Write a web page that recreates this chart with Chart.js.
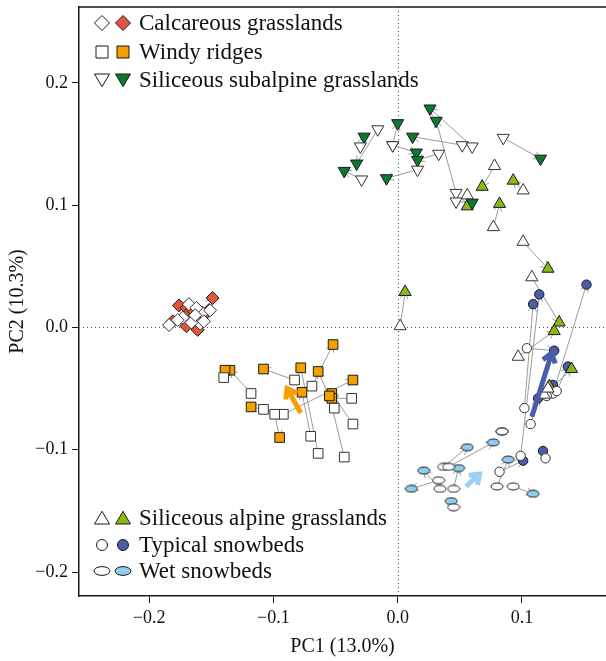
<!DOCTYPE html>
<html>
<head>
<meta charset="utf-8">
<script src="https://cdn.jsdelivr.net/npm/chart.js@4.4.0/dist/chart.umd.min.js"></script>
<style>
  html, body { margin: 0; padding: 0; background: #fff; overflow: hidden; }
  canvas { display: block; }
</style>
</head>
<body>
<canvas id="pca" width="606" height="661"></canvas>
<script>
// PCA scores, [PC1, PC2]; old (open) and new (filled) plots in the same order
const calcOld = [[-0.157,0.012],[-0.168,0.019],[-0.162,0.016],[-0.164,0.006],[-0.151,0.014],[-0.159,0.003],[-0.184,0.002],[-0.166,0.004],[-0.156,0.005],[-0.173,0.008],[-0.163,0.010],[-0.177,0.006]];
const calcNew = [[-0.149,0.024],[-0.176,0.018],[-0.170,0.016],[-0.169,0.011],[-0.152,0.014],[-0.155,0.011],[-0.181,0.005],[-0.170,0.001],[-0.161,-0.002],[-0.166,0.007],[-0.159,0.011],[-0.164,0.013]];

const windyOld = [[-0.069,-0.048],[-0.118,-0.054],[-0.140,-0.041],[-0.083,-0.043],[-0.064,-0.103],[-0.051,-0.066],[-0.092,-0.071],[-0.070,-0.089],[-0.036,-0.079],[-0.037,-0.058],[-0.108,-0.067],[-0.099,-0.071],[-0.043,-0.106]];
const windyNew = [[-0.052,-0.014],[-0.135,-0.035],[-0.139,-0.035],[-0.108,-0.034],[-0.078,-0.033],[-0.064,-0.036],[-0.036,-0.043],[-0.077,-0.053],[-0.053,-0.054],[-0.053,-0.058],[-0.118,-0.065],[-0.095,-0.090],[-0.055,-0.056]];

const subOld = [[-0.016,0.162],[-0.030,0.148],[-0.004,0.149],[0.016,0.129],[0.033,0.142],[0.052,0.149],[0.060,0.148],[0.085,0.155],[-0.029,0.121],[0.047,0.110],[0.047,0.103],[-0.004,0.149]];
const subNew = [[-0.033,0.134],[-0.027,0.156],[0.015,0.143],[-0.009,0.122],[0.016,0.137],[0.012,0.156],[0.026,0.179],[0.115,0.138],[-0.043,0.128],[0.031,0.169],[0.060,0.102],[0.000,0.167]];

const alpOld = [[0.002,0.001],[0.101,0.070],[0.108,0.041],[0.097,-0.024],[0.118,-0.055],[0.121,-0.050],[0.077,0.082],[0.078,0.132],[0.101,0.112],[0.056,0.108]];
const alpNew = [[0.006,0.029],[0.121,0.048],[0.130,0.004],[0.126,-0.003],[0.140,-0.034],[0.122,-0.048],[0.082,0.101],[0.068,0.115],[0.093,0.120],[0.056,0.099]];

const typOld = [[0.104,-0.017],[0.125,-0.054],[0.102,-0.066],[0.099,-0.105],[0.107,-0.079],[0.119,-0.107],[0.082,-0.118],[0.120,-0.056],[0.128,-0.052]];
const typNew = [[0.126,-0.019],[0.152,0.035],[0.109,0.019],[0.114,0.027],[0.113,-0.058],[0.117,-0.101],[0.101,-0.109],[0.125,-0.047],[0.137,-0.032]];

const wetOld = [[0.033,-0.125],[0.034,-0.132],[0.037,-0.114],[0.041,-0.114],[0.045,-0.132],[0.045,-0.147],[0.080,-0.130],[0.093,-0.130],[0.084,-0.085]];
const wetNew = [[0.011,-0.132],[0.021,-0.117],[0.056,-0.098],[0.077,-0.094],[0.049,-0.115],[0.043,-0.142],[0.089,-0.108],[0.109,-0.136],[0.084,-0.085]];

// mean shifts (tail, head)
const windyShift = [[-0.078,-0.070],[-0.089,-0.050]];
const typShift = [[0.108,-0.073],[0.124,-0.021]];
const wetShift = [[0.055,-0.130],[0.066,-0.120]];

const xTicks = [-0.2, -0.1, 0.0, 0.1];
const yTicks = [-0.2, -0.1, 0.0, 0.1, 0.2];

const SERIF = "'Liberation Serif', 'DejaVu Serif', serif";
const EDGE = '#1a1a1a';

function ellipseImg(w, h, fill) {
  const c = document.createElement('canvas');
  c.width = w + 2; c.height = h + 2;
  const g = c.getContext('2d');
  g.beginPath();
  g.ellipse(c.width / 2, c.height / 2, w / 2, h / 2, 0, 0, Math.PI * 2);
  g.fillStyle = fill; g.fill();
  g.lineWidth = 1; g.strokeStyle = EDGE; g.stroke();
  return c;
}
const wetOpenImg = ellipseImg(12, 7, '#ffffff');
const wetFullImg = ellipseImg(12, 7, '#8fcdef');

const groups = [
  {old: calcOld, now: calcNew, style: 'rectRot', r: 6.5, rot: 0, fill: '#e4553d'},
  {old: windyOld, now: windyNew, style: 'rect', r: 6.8, rot: 0, fill: '#f4a000'},
  {old: subOld, now: subNew, style: 'triangle', r: 7, rot: 180, fill: '#0b7a2f'},
  {old: alpOld, now: alpNew, style: 'triangle', r: 7, rot: 0, fill: '#8cb814'},
  {old: typOld, now: typNew, style: 'circle', r: 4.7, rot: 0, fill: '#4a5cab'},
  {old: wetOld, now: wetNew, style: wetOpenImg, styleNew: wetFullImg, r: 6, rot: 0, fill: '#8fcdef'}
];

const toXY = arr => arr.map(p => ({x: p[0], y: p[1]}));
const datasets = [];
groups.forEach(g => datasets.push({
  data: toXY(g.old), pointStyle: g.style, pointRadius: g.r, pointRotation: g.rot,
  backgroundColor: '#fff', borderColor: '#333', borderWidth: 1
}));
groups.forEach(g => datasets.push({
  data: toXY(g.now), pointStyle: g.styleNew || g.style, pointRadius: g.r, pointRotation: g.rot,
  backgroundColor: g.fill, borderColor: EDGE, borderWidth: 1
}));

function arrow(ctx, x0, y0, x1, y1, len, ang) {
  const d = Math.hypot(x1 - x0, y1 - y0);
  if (d < 1.5) return;
  const a = Math.atan2(y1 - y0, x1 - x0);
  ctx.beginPath();
  ctx.moveTo(x0, y0); ctx.lineTo(x1, y1);
  ctx.moveTo(x1 - len * Math.cos(a - ang), y1 - len * Math.sin(a - ang));
  ctx.lineTo(x1, y1);
  ctx.lineTo(x1 - len * Math.cos(a + ang), y1 - len * Math.sin(a + ang));
  ctx.stroke();
}

const frame = {
  id: 'frame',
  beforeDatasetsDraw(chart) {
    const {ctx, chartArea: a, scales: {x, y}} = chart;
    ctx.save();
    ctx.strokeStyle = '#555'; ctx.lineWidth = 1; ctx.setLineDash([1, 3]);
    const x0 = Math.round(x.getPixelForValue(0)) + 0.5;
    const y0 = Math.round(y.getPixelForValue(0)) + 0.5;
    ctx.beginPath();
    ctx.moveTo(x0, a.top); ctx.lineTo(x0, a.bottom);
    ctx.moveTo(a.left, y0); ctx.lineTo(a.right, y0);
    ctx.stroke();
    ctx.setLineDash([]);
    ctx.strokeStyle = EDGE; ctx.lineWidth = 1.5;
    ctx.beginPath(); ctx.moveTo(a.left, a.top); ctx.lineTo(a.right, a.top); ctx.stroke();
    // old -> new shifts
    ctx.strokeStyle = '#9c9c9c'; ctx.lineWidth = 1;
    groups.forEach(g => g.old.forEach((p, i) => {
      const q = g.now[i];
      arrow(ctx, x.getPixelForValue(p[0]), y.getPixelForValue(p[1]),
        x.getPixelForValue(q[0]), y.getPixelForValue(q[1]), 8, Math.PI / 6);
    }));
    ctx.restore();
  },
  afterDatasetsDraw(chart) {
    const {ctx, scales: {x, y}} = chart;
    ctx.save();
    ctx.lineWidth = 5; ctx.lineJoin = 'miter';
    [[windyShift, '#f5a000'], [typShift, '#4a5cab'], [wetShift, '#9bd0f2']].forEach(([s, c]) => {
      ctx.strokeStyle = c;
      arrow(ctx, x.getPixelForValue(s[0][0]), y.getPixelForValue(s[0][1]),
        x.getPixelForValue(s[1][0]), y.getPixelForValue(s[1][1]), 11, Math.PI / 5);
    });
    ctx.restore();
  }
};

function shape(ctx, kind, cx, cy, s, fill) {
  ctx.beginPath();
  if (kind === 'diamond') {
    ctx.moveTo(cx, cy - s); ctx.lineTo(cx + s, cy); ctx.lineTo(cx, cy + s); ctx.lineTo(cx - s, cy); ctx.closePath();
  } else if (kind === 'square') {
    ctx.rect(cx - s, cy - s, 2 * s, 2 * s);
  } else if (kind === 'down') {
    ctx.moveTo(cx - s, cy - s * 0.8); ctx.lineTo(cx + s, cy - s * 0.8); ctx.lineTo(cx, cy + s * 0.9); ctx.closePath();
  } else if (kind === 'up') {
    ctx.moveTo(cx - s, cy + s * 0.8); ctx.lineTo(cx + s, cy + s * 0.8); ctx.lineTo(cx, cy - s * 0.9); ctx.closePath();
  } else if (kind === 'circle') {
    ctx.arc(cx, cy, s, 0, Math.PI * 2);
  } else if (kind === 'ellipse') {
    ctx.ellipse(cx, cy, s * 1.45, s * 0.8, 0, 0, Math.PI * 2);
  }
  ctx.fillStyle = fill; ctx.fill();
  ctx.lineWidth = 1; ctx.strokeStyle = EDGE; ctx.stroke();
}

const legendRows = [
  {kind: 'diamond', s: 7.5, fill: '#e4553d', text: 'Calcareous grasslands', y: 23},
  {kind: 'square', s: 6, fill: '#f4a000', text: 'Windy ridges', y: 52},
  {kind: 'down', s: 7.5, fill: '#0b7a2f', text: 'Siliceous subalpine grasslands', y: 80},
  {kind: 'up', s: 7.5, fill: '#8cb814', text: 'Siliceous alpine grasslands', y: 518},
  {kind: 'circle', s: 5.5, fill: '#4a5cab', text: 'Typical snowbeds', y: 545},
  {kind: 'ellipse', s: 5.5, fill: '#8fcdef', text: 'Wet snowbeds', y: 571}
];

const keyBox = {
  id: 'keyBox',
  afterDraw(chart) {
    const ctx = chart.ctx;
    ctx.save();
    legendRows.forEach(r => {
      shape(ctx, r.kind, 102, r.y, r.s, '#fff');
      shape(ctx, r.kind, 123, r.y, r.s, r.fill);
      ctx.fillStyle = '#111';
      ctx.font = '23px ' + SERIF;
      ctx.textBaseline = 'middle';
      ctx.fillText(r.text, 139, r.y + 1);
    });
    ctx.restore();
  }
};

const fmt = v => (v < -1e-9 ? '\u2212' : '') + Math.abs(v).toFixed(1);
const noPad = s => { s.paddingLeft = 0; s.paddingRight = 0; s.paddingTop = 0; s.paddingBottom = 0; };

new Chart(document.getElementById('pca'), {
  type: 'scatter',
  data: {datasets: datasets},
  options: {
    responsive: false,
    animation: false,
    layout: {autoPadding: false, padding: {top: 7, right: 0, left: 0, bottom: 0}},
    plugins: {legend: {display: false}, tooltip: {enabled: false}},
    scales: {
      x: {
        type: 'linear', min: -0.2565, max: 0.1677,
        afterFit: s => { s.height = 65; noPad(s); },
        afterBuildTicks: s => { s.ticks = xTicks.map(v => ({value: v})); },
        grid: {display: true, drawOnChartArea: false, drawTicks: true, tickLength: 7, color: EDGE},
        border: {display: true, color: EDGE, width: 1.5},
        ticks: {callback: fmt, color: '#111', font: {family: SERIF, size: 18}, padding: 4, maxRotation: 0},
        title: {display: true, text: 'PC1 (13.0%)', color: '#111', font: {family: SERIF, size: 20}, padding: {top: 10, bottom: 2}}
      },
      y: {
        type: 'linear', min: -0.2196, max: 0.262,
        afterFit: s => { s.width = 79; noPad(s); },
        afterBuildTicks: s => { s.ticks = yTicks.map(v => ({value: v})); },
        grid: {display: true, drawOnChartArea: false, drawTicks: true, tickLength: 7, color: EDGE},
        border: {display: true, color: EDGE, width: 1.5},
        ticks: {callback: fmt, color: '#111', font: {family: SERIF, size: 18}, padding: 4},
        title: {display: true, text: 'PC2 (10.3%)', color: '#111', font: {family: SERIF, size: 20}, padding: {top: 6, bottom: 0}}
      }
    }
  },
  plugins: [frame, keyBox]
});
</script>
</body>
</html>
